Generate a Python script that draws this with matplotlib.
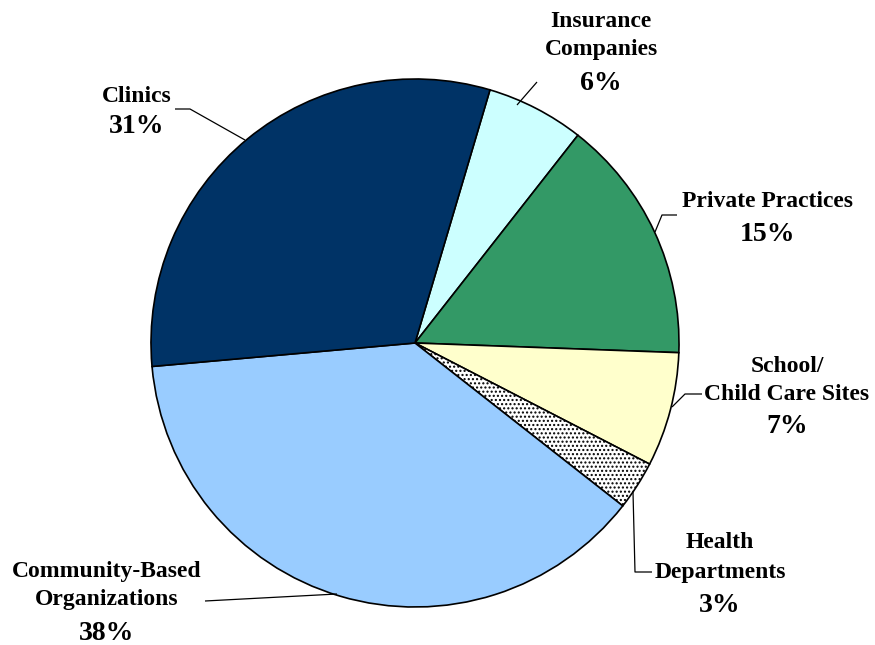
import matplotlib
matplotlib.use("Agg")
import matplotlib.pyplot as plt

# Share of sites by type (percent)
categories = ["Insurance\nCompanies", "Private Practices", "School/\nChild Care Sites",
              "Health\nDepartments", "Community-Based\nOrganizations", "Clinics"]
shares = [6, 15, 7, 3, 38, 31]
pct_labels = ["6%", "15%", "7%", "3%", "38%", "31%"]

colors = ["#CCFFFF", "#339966", "#FFFFCC", "#FFFFFF", "#99CCFF", "#003366"]
hatches = [None, None, None, "....", None, None]

W, H = 875, 645
fig = plt.figure(figsize=(W / 100, H / 100), dpi=100)
ax = fig.add_axes([0, 0, 1, 1])


def to_y(y):
    # layout positions are measured from the top edge of the figure
    return H - y


wedges, _ = ax.pie(
    shares,
    colors=colors,
    startangle=73.5,
    counterclock=False,
    center=(415, to_y(343)),
    radius=264,
    wedgeprops=dict(edgecolor="black", linewidth=1.2),
)
for w, h in zip(wedges, hatches):
    if h:
        w.set_hatch(h)

ax.set_xlim(0, W)
ax.set_ylim(0, H)
ax.set_aspect("equal")
ax.axis("off")

font = "Liberation Serif"
name_size = 17
pct_size = 20

# label layout: x centre, baselines of name lines, baseline of percent line
layout = [
    (601, [27, 55], 90),
    (767, [207], 241),
    (787, [372, 400], 433),
    (720, [548, 578], 612),
    (107, [577, 605], 640),
    (137, [102], 133),
]

for cat, pct, (x, name_bases, pct_base) in zip(categories, pct_labels, layout):
    for line, yb in zip(cat.split("\n"), name_bases):
        ax.text(x, to_y(yb), line, ha="center", va="baseline",
                fontsize=name_size, fontweight="bold", family=font)
    ax.text(x, to_y(pct_base), pct, ha="center", va="baseline",
            fontsize=pct_size, fontweight="bold", family=font)

# leader lines joining labels to slices
leaders = [
    [(517, 105), (537, 82)],
    [(655, 232), (662, 215), (677, 215)],
    [(672, 407), (685, 394), (702, 394)],
    [(633, 492), (635, 572), (652, 572)],
    [(337, 594), (205, 601)],
    [(245, 140), (190, 109), (175, 109)],
]
for pts in leaders:
    xs = [p[0] for p in pts]
    ys = [to_y(p[1]) for p in pts]
    ax.plot(xs, ys, color="black", linewidth=0.9, solid_capstyle="butt")

fig.savefig("out.png", dpi=100)
